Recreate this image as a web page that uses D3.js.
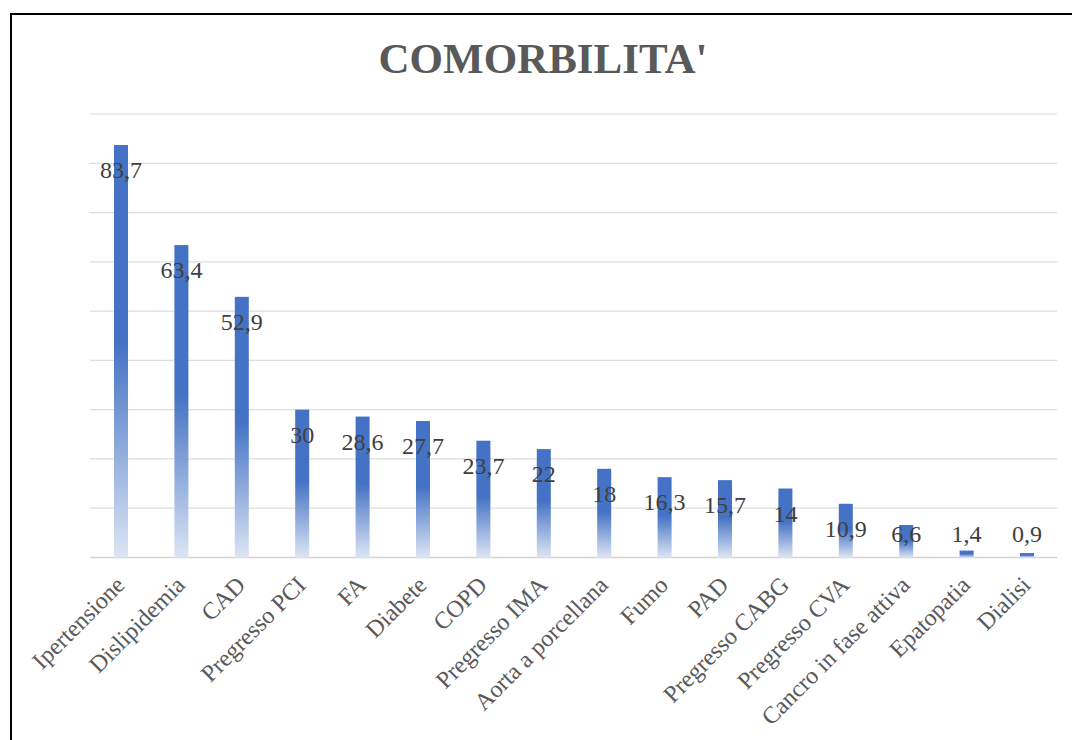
<!DOCTYPE html>
<html>
<head>
<meta charset="utf-8">
<script src="https://cdn.jsdelivr.net/npm/d3@7"></script>
<style>
    body { margin: 0; background: #fff; }
    svg { display: block; }
</style>
</head>
<body>
<div id="chart"></div>
<script>
// data
var categories = ["Ipertensione", "Dislipidemia", "CAD", "Pregresso PCI", "FA", "Diabete", "COPD",
    "Pregresso IMA", "Aorta a porcellana", "Fumo", "PAD", "Pregresso CABG", "Pregresso CVA",
    "Cancro in fase attiva", "Epatopatia", "Dialisi"];
var values = [83.7, 63.4, 52.9, 30, 28.6, 27.7, 23.7, 22, 18, 16.3, 15.7, 14, 10.9, 6.6, 1.4, 0.9];
var gridTicks = [0, 10, 20, 30, 40, 50, 60, 70, 80, 90];
var title = "COMORBILITA'";

var width = 1072, height = 740;
var margin = {left: 90.8, right: 14.8, top: 114, bottom: 182.5};

var svg = d3.select("#chart")
    .append("svg")
    .attr("width", width)
    .attr("height", height);

svg.append("rect")
    .attr("width", width)
    .attr("height", height)
    .attr("fill", "#fff");

// frame (only top and left edges show in the picture)
svg.append("rect")
    .attr("x", 11)
    .attr("y", 14)
    .attr("width", width + 20)
    .attr("height", height + 20)
    .attr("fill", "none")
    .attr("stroke", "#000")
    .attr("stroke-width", 2);

var x = d3.scaleBand()
    .domain(categories)
    .range([margin.left, width - margin.right])
    .paddingInner(0.768)
    .paddingOuter(0.384);

var y = d3.scaleLinear()
    .domain([0, 90])
    .range([height - margin.bottom, margin.top]);

// vertical fade used by every bar
var defs = svg.append("defs");
var grad = defs.append("linearGradient")
    .attr("id", "barFade")
    .attr("x1", 0).attr("y1", 0)
    .attr("x2", 0).attr("y2", 1);
grad.append("stop").attr("offset", "0%").attr("stop-color", "#4472c4");
grad.append("stop").attr("offset", "48%").attr("stop-color", "#4472c4");
grad.append("stop").attr("offset", "100%").attr("stop-color", "#dce5f4");

// gridlines
svg.append("g")
    .selectAll("line")
    .data(gridTicks)
    .enter()
    .append("line")
    .attr("x1", margin.left - 1)
    .attr("x2", width - margin.right)
    .attr("y1", function(d) { return y(d); })
    .attr("y2", function(d) { return y(d); })
    .attr("stroke", function(d) { return d === 0 ? "#d4d4d4" : "#dedede"; })
    .attr("stroke-width", function(d) { return d === 0 ? 1.6 : 1.2; });

// bars
svg.append("g")
    .selectAll("rect")
    .data(values)
    .enter()
    .append("rect")
    .attr("x", function(d, i) { return x(categories[i]); })
    .attr("y", function(d) { return y(d); })
    .attr("width", x.bandwidth())
    .attr("height", function(d) { return y(0) - y(d); })
    .attr("fill", "url(#barFade)");

// value labels, inside the top of the bar, kept above the axis for short bars
var fmt = function(v) { return String(v).replace(".", ","); };
svg.append("g")
    .selectAll("text")
    .data(values)
    .enter()
    .append("text")
    .attr("x", function(d, i) { return x(categories[i]) + x.bandwidth() / 2; })
    .attr("y", function(d) { return Math.min(y(d) + 33, y(0) - 16); })
    .attr("text-anchor", "middle")
    .attr("font-family", "'Liberation Serif', 'Times New Roman', serif")
    .attr("font-size", "24px")
    .attr("fill", "#404040")
    .text(fmt);

// category labels at -45 degrees
svg.append("g")
    .selectAll("text")
    .data(categories)
    .enter()
    .append("text")
    .attr("transform", function(d) {
        var cx = x(d) + x.bandwidth() / 2;
        return "translate(" + (cx + 5) + "," + (y(0) + 29) + ") rotate(-45)";
    })
    .attr("text-anchor", "end")
    .attr("font-family", "'Liberation Serif', 'Times New Roman', serif")
    .attr("font-size", "24px")
    .attr("fill", "#595959")
    .text(function(d) { return d; });

// title
svg.append("text")
    .attr("x", 543)
    .attr("y", 73)
    .attr("text-anchor", "middle")
    .attr("font-family", "'Liberation Serif', 'Times New Roman', serif")
    .attr("font-weight", "bold")
    .attr("font-size", "43px")
    .attr("fill", "#595959")
    .text(title);
</script>
</body>
</html>
